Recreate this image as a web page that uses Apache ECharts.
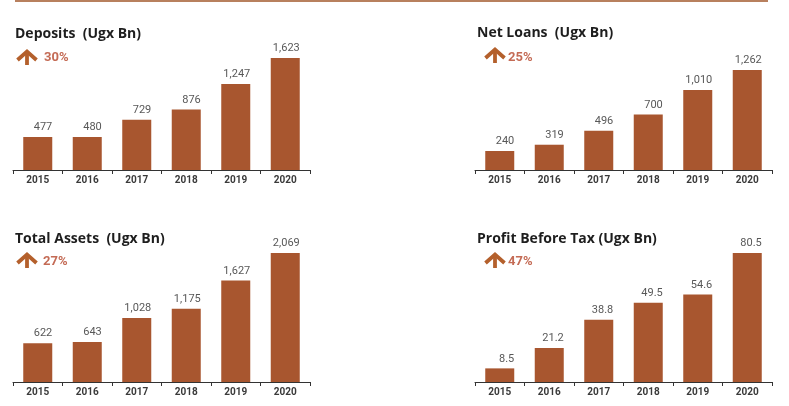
<!DOCTYPE html>
<html>
<head>
<meta charset="utf-8">
<script src="https://cdn.jsdelivr.net/npm/echarts@6/dist/echarts.min.js"></script>
<style>
html,body{margin:0;padding:0;background:#fff;}
#c{width:789px;height:406px;}
</style>
</head>
<body>
<div id="c"></div>
<script>
const years = ['2015','2016','2017','2018','2019','2020'];
const deposits = [477, 480, 729, 876, 1247, 1623];
const netLoans = [240, 319, 496, 700, 1010, 1262];
const totalAssets = [622, 643, 1028, 1175, 1627, 2069];
const profitBeforeTax = [8.5, 21.2, 38.8, 49.5, 54.6, 80.5];
const titles = ['Deposits  (Ugx Bn)', 'Net Loans  (Ugx Bn)', 'Total Assets  (Ugx Bn)', 'Profit Before Tax (Ugx Bn)'];
const growth = ['30%', '25%', '27%', '47%'];

const BAR = '#a8562f';
const panels = [
  {data: deposits, left: 13, top: 58, height: 112, tx: 15, ty: 27, ax: 15, ay: 49, px: 44, py: 58},
  {data: netLoans, left: 475, top: 70, height: 100, tx: 477, ty: 26, ax: 483, ay: 47, px: 508, py: 58},
  {data: totalAssets, left: 13, top: 253, height: 129, tx: 15, ty: 232, ax: 15, ay: 252, px: 43, py: 262},
  {data: profitBeforeTax, left: 475, top: 253, height: 129, tx: 477, ty: 232, ax: 483, ay: 252, px: 508, py: 262}
];

const grid = [], xAxis = [], yAxis = [], series = [], title = [], graphic = [];
panels.forEach((p, i) => {
  grid.push({left: p.left, top: p.top, width: 297, height: p.height});
  xAxis.push({
    type: 'category', gridIndex: i, data: years,
    axisLine: {lineStyle: {color: '#333', width: 1}},
    axisTick: {show: true, length: 4, lineStyle: {color: '#333'}},
    axisLabel: {margin: 5, fontSize: 10, fontWeight: 'bold', color: '#3a3a3a', fontFamily: 'Roboto'}
  });
  yAxis.push({type: 'value', gridIndex: i, min: 0, max: Math.max(...p.data), show: false, splitLine: {show: false}});
  series.push({
    type: 'bar', xAxisIndex: i, yAxisIndex: i, data: p.data, barWidth: 29,
    itemStyle: {color: BAR},
    label: {
      show: true, position: 'top', distance: 4, align: 'right', offset: [14.5, 0],
      fontSize: 11, color: '#585858', fontFamily: 'Roboto',
      formatter: (d) => d.value.toLocaleString('en-US')
    }
  });
  title.push({
    text: titles[i], left: p.tx, top: p.ty, padding: 0,
    textStyle: {fontSize: 14, fontWeight: 'bold', color: '#1e1e1e', fontFamily: 'Open Sans'}
  });
  graphic.push({
    type: 'group', left: p.ax, top: p.ay,
    children: [
      {type: 'polyline', shape: {points: [[1.5, 10], [11, 1.5], [20.5, 10]]}, style: {stroke: '#b4602c', lineWidth: 3.8, fill: null}},
      {type: 'line', shape: {x1: 11, y1: 2, x2: 11, y2: 15}, style: {stroke: '#b4602c', lineWidth: 3.8}}
    ]
  });
  graphic.push({
    type: 'text', left: p.px, top: p.py - 7,
    style: {text: growth[i], fontSize: 13, fontWeight: 'bold', fill: '#c46b55', fontFamily: 'Roboto'}
  });
});
graphic.push({type: 'line', shape: {x1: 15, y1: 1, x2: 768, y2: 1}, style: {stroke: '#b8805e', lineWidth: 2}});

const chart = echarts.init(document.getElementById('c'));
chart.setOption({animation: false, grid, xAxis, yAxis, series, title, graphic});
</script>
</body>
</html>
